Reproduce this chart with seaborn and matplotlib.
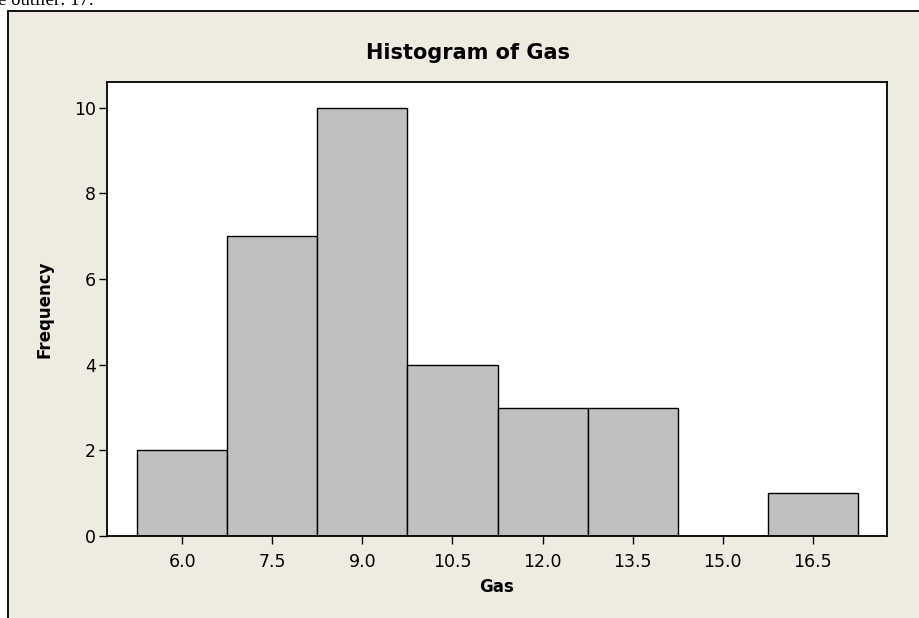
import numpy as np
import pandas as pd
import matplotlib
matplotlib.use('Agg')
import matplotlib.pyplot as plt
from matplotlib.patches import Rectangle
import seaborn as sns

# data
gas_mids = [6.0, 7.5, 9.0, 10.5, 12.0, 13.5, 15.0, 16.5]
frequency = [2, 7, 10, 4, 3, 3, 0, 1]
bin_width = 1.5
y_ticks = [0, 2, 4, 6, 8, 10]

df = pd.DataFrame({'Gas': gas_mids, 'Frequency': frequency})

sns.set_style('ticks')
plt.rcParams['font.family'] = ['DejaVu Sans']
plt.rcParams['text.color'] = 'black'
plt.rcParams['axes.labelcolor'] = 'black'
plt.rcParams['xtick.color'] = 'black'
plt.rcParams['ytick.color'] = 'black'

W, H = 919, 618
fig = plt.figure(figsize=(W / 100, H / 100), dpi=100, facecolor='white')

# beige panel of the screenshot
fig.patches.append(Rectangle((8 / W, -0.1), 1.2, 1.1 - 11 / H, transform=fig.transFigure,
                             facecolor='#EFEBE1', edgecolor='black', linewidth=1.3, zorder=-10))

# cut-off line of text above the panel
fig.text(-2 / W, 1 - 5 / H, 'e outlier: 17.', family='Liberation Serif', fontsize=13.5,
         ha='left', va='baseline')

ax = fig.add_axes([107 / W, 1 - 536 / H, (887 - 107) / W, (536 - 82) / H])
ax.set_zorder(5)
ax.set_facecolor('white')

sns.histplot(data=df, x='Gas', weights='Frequency', binwidth=bin_width,
             binrange=(gas_mids[0] - bin_width / 2, gas_mids[-1] + bin_width / 2),
             color='#C0C0C0', edgecolor='black', linewidth=1.0, alpha=1, ax=ax)

ax.set_xlim(4.743, 17.74)
ax.set_ylim(0, 10.6)
ax.set_xticks(gas_mids)
ax.set_xticklabels([f'{v:.1f}' for v in gas_mids])
ax.set_yticks(y_ticks)
ax.tick_params(axis='both', direction='out', length=6, width=1, labelsize=12.5, color='black')
ax.tick_params(axis='x', pad=6)
ax.tick_params(axis='y', pad=2)

for s in ax.spines.values():
    s.set_visible(True)
    s.set_linewidth(1.3)
    s.set_color('black')

ax.set_xlabel('Gas', fontsize=12, fontweight='bold')
ax.set_ylabel('Frequency', fontsize=12, fontweight='bold')
ax.xaxis.set_label_coords(0.5, -0.092)
ax.yaxis.set_label_coords(-0.068, 0.5)

fig.text(468 / W, 1 - 53 / H, 'Histogram of Gas', fontsize=15, fontweight='bold',
         ha='center', va='center')

fig.savefig('out.png', dpi=100, facecolor=fig.get_facecolor())
